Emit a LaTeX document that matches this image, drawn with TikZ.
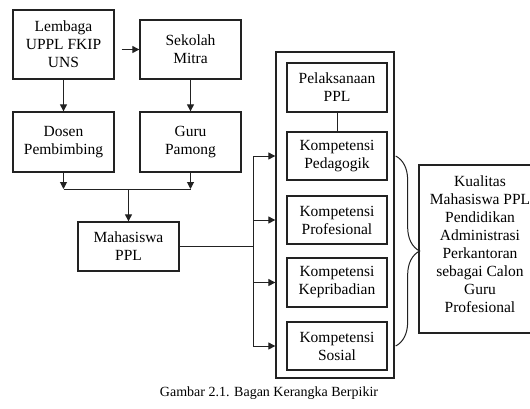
\documentclass[tikz,border=0pt]{standalone}
\usepackage{fontspec}
\setmainfont{Liberation Serif}
\usetikzlibrary{arrows.meta,positioning,calc,decorations.pathreplacing}
\definecolor{LineDark}{HTML}{222222}

\begin{document}
\begin{tikzpicture}[
  x=1pt,y=-1pt,
  box/.style={draw=LineDark,line width=1.3pt,fill=white,minimum width=101pt,align=center,inner sep=2pt,font=\fontsize{15.5}{18}\selectfont},
  komp/.style={box,minimum width=100pt,minimum height=48pt},
  arr/.style={-{Triangle[length=7pt,width=7pt]},line width=1pt,draw=LineDark},
  conn/.style={line width=1pt,draw=LineDark}
]
\useasboundingbox (0,0) rectangle (530,408);
\clip (0,0) rectangle (530,408);
% left column
\node[box,minimum height=69pt] (lembaga) at (63.5,44.5) {Lembaga\\UPPL FKIP\\UNS};
\node[box,minimum height=59pt] (sekolah) at (190.5,49.5) {Sekolah\\Mitra};
\node[box,minimum height=60pt] (dosen) at (63.5,142) {Dosen\\Pembimbing};
\node[box,minimum height=60pt] (guru) at (190.5,142) {Guru\\Pamong};
\node[box,minimum height=49pt] (mhs) at (128.5,246.5) {Mahasiswa\\PPL};
\coordinate (gabung) at (128.5,189);
\coordinate (rel) at (253,0);
% competence column
\node[draw=LineDark,line width=1.3pt,minimum width=118pt,minimum height=326pt] (wadah) at (335,215) {};
\node[komp,minimum height=49pt] (pelaksanaan) at (337,87.5) {Pelaksanaan\\PPL};
\node[komp] (pedagogik) at (337,156) {Kompetensi\\Pedagogik};
\node[komp] (profesional) at (337,220) {Kompetensi\\Profesional};
\node[komp,minimum height=49pt] (kepribadian) at (337,282.5) {Kompetensi\\Kepribadian};
\node[komp] (sosial) at (337,346) {Kompetensi\\Sosial};
\node[box,minimum width=124pt,minimum height=168pt] (kualitas) at (481,249) {};
\node[font=\fontsize{15.5}{18}\selectfont,align=center] (kualitasteks) at (480,244) {Kualitas\\Mahasiswa PPL\\Pendidikan\\Administrasi\\Perkantoran\\sebagai Calon\\Guru\\Profesional};
\node[font=\fontsize{14}{17}\selectfont] (judul) at (269,393) {Gambar 2.1. Bagan Kerangka Berpikir};
% connectors
\draw[arr] ([xshift=7pt]lembaga.east |- sekolah.west) -- (sekolah.west);
\draw[arr] (lembaga.south) -- (dosen.north);
\draw[arr] (sekolah.south) -- (guru.north);
\draw[arr] (dosen.south) -- (dosen.south |- gabung);
\draw[arr] (guru.south) -- (guru.south |- gabung);
\draw[conn] (dosen.south |- gabung) -- (guru.south |- gabung);
\draw[arr] (gabung) -- (mhs.north);
\draw[conn] (mhs.east) -- (mhs.east -| rel);
\draw[conn] (rel |- pedagogik) -- (rel |- sosial);
\foreach \k in {pedagogik,profesional,kepribadian,sosial}
  \draw[arr] (rel |- \k) -- (\k -| wadah.west);
\draw[conn] (pelaksanaan.south) -- (pedagogik.north);
\draw[conn,decorate,decoration={brace,amplitude=24pt}] ([xshift=1pt]wadah.east |- pedagogik) -- ([xshift=1pt]wadah.east |- sosial);
\end{tikzpicture}
\end{document}
